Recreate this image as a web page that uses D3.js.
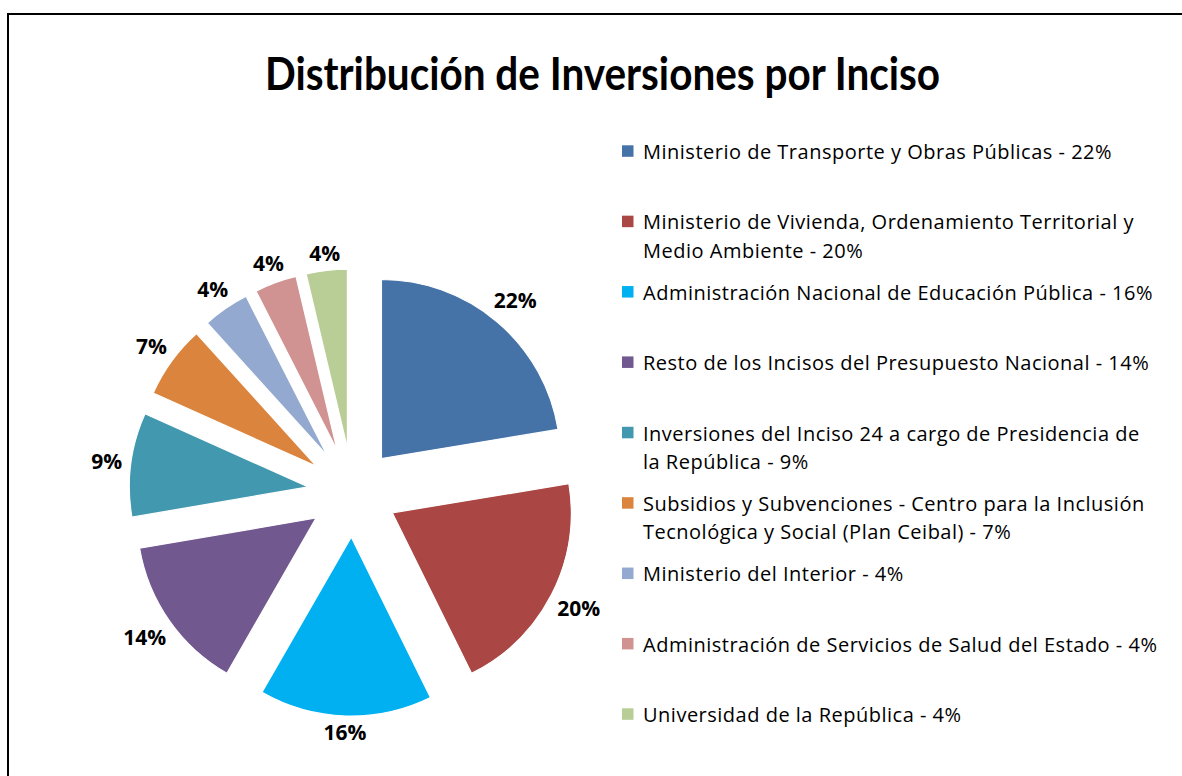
<!DOCTYPE html>
<html>
<head>
<meta charset="utf-8">
<script src="https://cdn.jsdelivr.net/npm/d3@7"></script>
<style>
  body { margin: 0; background: #fff; }
  svg { display: block; }
  .title { font-family: Lato, "Open Sans", sans-serif; font-weight: bold; font-size: 45px; fill: #000; }
  .legend text { font-family: "Open Sans", sans-serif; font-size: 20px; letter-spacing: 0.5px; fill: #000; }
  .pct { font-family: "Open Sans", sans-serif; font-weight: bold; font-size: 21px; fill: #000; }
</style>
</head>
<body>
<svg id="chart"></svg>
<script>
// categories, "|" marks the line break used in the legend
const categories = [
  "Ministerio de Transporte y Obras Públicas - 22%",
  "Ministerio de Vivienda, Ordenamiento Territorial y|Medio Ambiente - 20%",
  "Administración Nacional de Educación Pública - 16%",
  "Resto de los Incisos del Presupuesto Nacional - 14%",
  "Inversiones del Inciso 24 a cargo de Presidencia de|la República - 9%",
  "Subsidios y Subvenciones - Centro para la Inclusión|Tecnológica y Social (Plan Ceibal) - 7%",
  "Ministerio del Interior - 4%",
  "Administración de Servicios de Salud del Estado - 4%",
  "Universidad de la República - 4%"
];
// share of total investment (%)
const values = [22.4, 20.3, 15.6, 14.0, 9.4, 6.6, 4.2, 3.8, 3.7];
const colors = ["#4572A7", "#AA4643", "#00B0F0", "#71588F", "#4198AF",
                "#DB843D", "#93A9CF", "#D19392", "#B9CD96"];

const width = 1182, height = 776;
const config = {
  cx: 352.6, cy: 492.5,
  radius: 179,
  explode: 44.6,
  labelGap: 8,
  legendX: 622, legendTop: 159, legendBottom: 722,
  lineHeight: 28.5
};

const svg = d3.select("#chart")
  .attr("width", width)
  .attr("height", height);

// chart area border (runs off the right and bottom of the picture)
svg.append("path")
  .attr("d", `M8,${height + 10} V14 H${width + 10}`)
  .attr("fill", "none")
  .attr("stroke", "#000")
  .attr("stroke-width", 2);

const title = svg.append("text")
  .attr("class", "title")
  .attr("x", 602.5)
  .attr("y", 90)
  .attr("text-anchor", "middle")
  .text("Distribución de Inversiones por Inciso");
if (title.node().getComputedTextLength() > 675) {
  title.attr("textLength", 675).attr("lengthAdjust", "spacingAndGlyphs");
}

const color = d3.scaleOrdinal().domain(categories).range(colors);
const total = d3.sum(values);
const data = categories.map((c, i) => ({ name: c, value: values[i] }));

const pie = d3.pie()
  .sort(null)
  .value(d => d.value)
  .startAngle(0)
  .endAngle(2 * Math.PI);

const arc = d3.arc()
  .innerRadius(0)
  .outerRadius(config.radius);

const arcs = pie(data);
const mid = d => (d.startAngle + d.endAngle) / 2;

const chart = svg.append("g")
  .attr("transform", `translate(${config.cx},${config.cy})`);

chart.selectAll("path.slice")
  .data(arcs)
  .join("path")
    .attr("class", "slice")
    .attr("d", arc)
    .attr("fill", d => color(d.data.name))
    .attr("stroke", "#fff")
    .attr("stroke-width", 1.2)
    .attr("transform", d => {
      const a = mid(d);
      return `translate(${config.explode * Math.sin(a)},${-config.explode * Math.cos(a)})`;
    });

// percentage labels placed just outside each exploded slice
chart.selectAll("text.pct")
  .data(arcs)
  .join("text")
    .attr("class", "pct")
    .attr("text-anchor", "middle")
    .attr("dy", "0.35em")
    .text(d => Math.round(d.data.value / total * 100) + "%")
    .each(function(d) {
      const a = mid(d);
      const hw = this.getComputedTextLength() / 2, hh = 7.5;
      const R = config.explode + config.radius + config.labelGap +
                hw * Math.abs(Math.sin(a)) + hh * Math.abs(Math.cos(a));
      d3.select(this)
        .attr("x", R * Math.sin(a))
        .attr("y", -R * Math.cos(a));
    });

// legend
const legendY = d3.scaleLinear()
  .domain([0, categories.length - 1])
  .range([config.legendTop, config.legendBottom]);

const legend = svg.append("g")
  .attr("class", "legend")
  .selectAll("g")
  .data(categories)
  .join("g")
    .attr("transform", (d, i) => `translate(${config.legendX},${legendY(i)})`);

legend.append("rect")
  .attr("x", 0)
  .attr("y", -13.7)
  .attr("width", 11.5)
  .attr("height", 11.5)
  .attr("fill", d => color(d));

legend.append("text")
  .attr("x", 21)
  .attr("y", 0)
  .selectAll("tspan")
  .data(d => d.split("|"))
  .join("tspan")
    .attr("x", 21)
    .attr("dy", (d, i) => i === 0 ? 0 : config.lineHeight)
    .text(d => d);
</script>
</body>
</html>
